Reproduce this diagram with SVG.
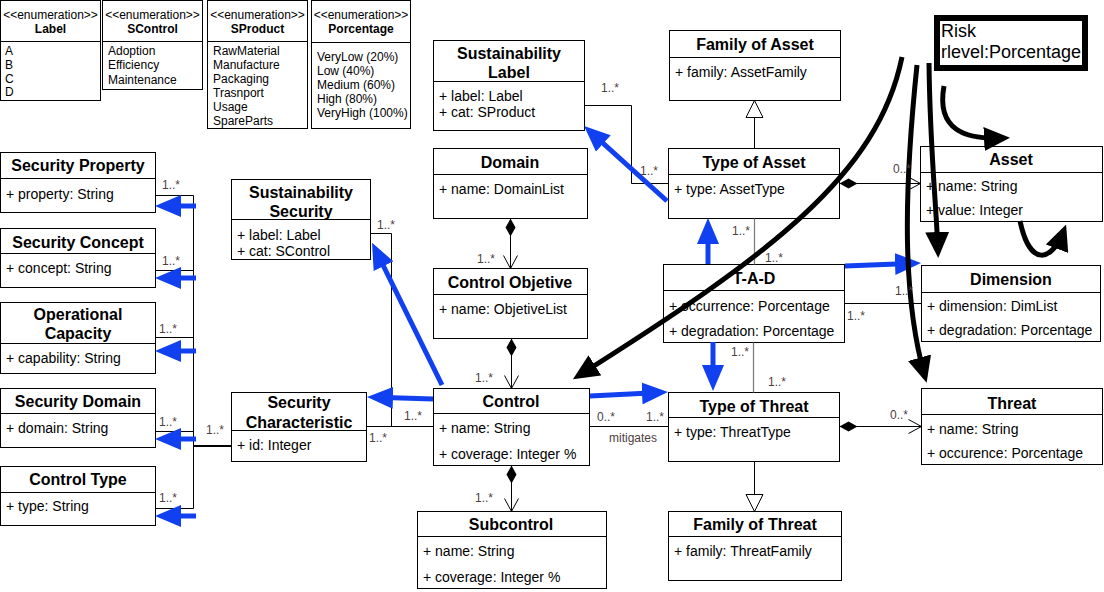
<svg xmlns="http://www.w3.org/2000/svg" width="1104" height="592" viewBox="0 0 1104 592">
<style>
.box{fill:#fff;stroke:#000;stroke-width:1}
.dv{stroke:#000;stroke-width:1}
.t{font-family:'Liberation Sans',Arial,sans-serif;font-weight:bold;font-size:16px;text-anchor:middle;fill:#000}
.a{font-family:'Liberation Sans',Arial,sans-serif;font-size:14px;fill:#000}
.e{font-family:'Liberation Sans',Arial,sans-serif;font-size:12px;fill:#000}
.ec{font-family:'Liberation Sans',Arial,sans-serif;font-size:12px;fill:#000;text-anchor:middle}
.eb{font-family:'Liberation Sans',Arial,sans-serif;font-size:12px;font-weight:bold;fill:#000;text-anchor:middle}
.m{font-family:'Liberation Sans',Arial,sans-serif;font-size:12px;fill:#4d4040}
.r{font-family:'Liberation Sans',Arial,sans-serif;font-size:18px;fill:#000}
.c{stroke:#000;stroke-width:1;fill:none}
.g{stroke:#808080;stroke-width:1.3;fill:none}
.comp{marker-start:url(#dia);marker-end:url(#open)}
.gen{marker-end:url(#tri)}
.blue{stroke:#1040f0;stroke-width:5;fill:none;marker-end:url(#bh)}
.bk{stroke:#000;stroke-width:5;fill:none;marker-end:url(#kh)}
</style>
<defs>
<marker id="bh" markerUnits="userSpaceOnUse" markerWidth="26" markerHeight="22" refX="8" refY="11" orient="auto"><path d="M0,0 L26,11 L0,22 z" fill="#1040f0"/></marker>
<marker id="kh" markerUnits="userSpaceOnUse" markerWidth="26" markerHeight="24" refX="20" refY="12" orient="auto"><path d="M0,0 L26,12 L0,24 z" fill="#000"/></marker>
<marker id="dia" markerUnits="userSpaceOnUse" markerWidth="20" markerHeight="12" refX="0" refY="6" orient="auto"><path d="M0,6 L9,1 L18,6 L9,11 z" fill="#000"/></marker>
<marker id="open" markerUnits="userSpaceOnUse" markerWidth="15" markerHeight="16" refX="14" refY="8" orient="auto"><path d="M1,1 L14,8 L1,15" fill="none" stroke="#000" stroke-width="1"/></marker>
<marker id="tri" markerUnits="userSpaceOnUse" markerWidth="19" markerHeight="19" refX="18" refY="9.5" orient="auto"><path d="M1,1 L18,9.5 L1,18 z" fill="#fff" stroke="#000" stroke-width="1"/></marker>
</defs>

<!-- Enumerations -->
<g id="enum-label">
<rect class="box" x="0.5" y="0.5" width="100" height="100"/>
<line class="dv" x1="0.5" y1="41.5" x2="100.5" y2="41.5"/>
<text class="ec" x="50.5" y="19">&lt;&lt;enumeration&gt;&gt;</text>
<text class="eb" x="50.5" y="32.5">Label</text>
<text class="e" x="5" y="55">A</text><text class="e" x="5" y="69">B</text><text class="e" x="5" y="82.5">C</text><text class="e" x="5" y="96">D</text>
</g>
<g id="enum-scontrol">
<rect class="box" x="102.5" y="0.5" width="100" height="89"/>
<line class="dv" x1="102.5" y1="41.5" x2="202.5" y2="41.5"/>
<text class="ec" x="152.5" y="19">&lt;&lt;enumeration&gt;&gt;</text>
<text class="eb" x="152.5" y="32.5">SControl</text>
<text class="e" x="108" y="55">Adoption</text><text class="e" x="108" y="69">Efficiency</text><text class="e" x="108" y="84">Maintenance</text>
</g>
<g id="enum-sproduct">
<rect class="box" x="207.5" y="0.5" width="100" height="128"/>
<line class="dv" x1="207.5" y1="41.5" x2="307.5" y2="41.5"/>
<text class="ec" x="257.5" y="19">&lt;&lt;enumeration&gt;&gt;</text>
<text class="eb" x="257.5" y="32.5">SProduct</text>
<text class="e" x="213" y="54.5">RawMaterial</text><text class="e" x="213" y="68.5">Manufacture</text><text class="e" x="213" y="82.5">Packaging</text><text class="e" x="213" y="96.5">Trasnport</text><text class="e" x="213" y="111">Usage</text><text class="e" x="213" y="125">SpareParts</text>
</g>
<g id="enum-porcentage">
<rect class="box" x="311.5" y="0.5" width="99" height="128"/>
<line class="dv" x1="311.5" y1="42.5" x2="410.5" y2="42.5"/>
<text class="ec" x="361" y="19">&lt;&lt;enumeration&gt;&gt;</text>
<text class="eb" x="361" y="32.5">Porcentage</text>
<text class="e" x="317" y="61">VeryLow (20%)</text><text class="e" x="317" y="75">Low (40%)</text><text class="e" x="317" y="89">Medium (60%)</text><text class="e" x="317" y="103">High (80%)</text><text class="e" x="317" y="117">VeryHigh (100%)</text>
</g>

<!-- Left classes -->
<g id="security-property">
<rect class="box" x="0.5" y="152.5" width="155" height="60"/>
<line class="dv" x1="0.5" y1="178.5" x2="155.5" y2="178.5"/>
<text class="t" x="78" y="171">Security Property</text>
<text class="a" x="6" y="199">+ property: String</text>
</g>
<g id="security-concept">
<rect class="box" x="0.5" y="228.5" width="155" height="59"/>
<line class="dv" x1="0.5" y1="253.5" x2="155.5" y2="253.5"/>
<text class="t" x="78" y="248">Security Concept</text>
<text class="a" x="6" y="273">+ concept: String</text>
</g>
<g id="operational-capacity">
<rect class="box" x="0.5" y="302.5" width="155" height="71"/>
<line class="dv" x1="0.5" y1="343.5" x2="155.5" y2="343.5"/>
<text class="t" x="78" y="320">Operational</text>
<text class="t" x="78" y="339">Capacity</text>
<text class="a" x="6" y="363">+ capability: String</text>
</g>
<g id="security-domain">
<rect class="box" x="0.5" y="388.5" width="155" height="59"/>
<line class="dv" x1="0.5" y1="413.5" x2="155.5" y2="413.5"/>
<text class="t" x="78" y="407">Security Domain</text>
<text class="a" x="6" y="433">+ domain: String</text>
</g>
<g id="control-type">
<rect class="box" x="0.5" y="466.5" width="155" height="59"/>
<line class="dv" x1="0.5" y1="492.5" x2="155.5" y2="492.5"/>
<text class="t" x="78" y="485">Control Type</text>
<text class="a" x="6" y="511">+ type: String</text>
</g>
<g id="sustainability-security">
<rect class="box" x="231.5" y="179.5" width="139" height="80"/>
<line class="dv" x1="231.5" y1="219.5" x2="370.5" y2="219.5"/>
<text class="t" x="301" y="198">Sustainability</text>
<text class="t" x="301" y="217">Security</text>
<text class="a" x="237" y="240">+ label: Label</text>
<text class="a" x="237" y="256">+ cat: SControl</text>
</g>
<g id="security-characteristic">
<rect class="box" x="231.5" y="392.5" width="135" height="69"/>
<line class="dv" x1="231.5" y1="430.5" x2="366.5" y2="430.5"/>
<text class="t" x="299" y="408">Security</text>
<text class="t" x="299" y="428">Characteristic</text>
<text class="a" x="237" y="450">+ id: Integer</text>
</g>

<!-- Middle classes -->
<g id="sustainability-label">
<rect class="box" x="433.5" y="40.5" width="151" height="90"/>
<line class="dv" x1="433.5" y1="81.5" x2="584.5" y2="81.5"/>
<text class="t" x="509" y="59">Sustainability</text>
<text class="t" x="509" y="78">Label</text>
<text class="a" x="439" y="101">+ label: Label</text>
<text class="a" x="439" y="117">+ cat: SProduct</text>
</g>
<g id="domain">
<rect class="box" x="433.5" y="148.5" width="154" height="70"/>
<line class="dv" x1="433.5" y1="174.5" x2="587.5" y2="174.5"/>
<text class="t" x="510" y="168">Domain</text>
<text class="a" x="439" y="194">+ name: DomainList</text>
</g>
<g id="control-objetive">
<rect class="box" x="433.5" y="268.5" width="154" height="70"/>
<line class="dv" x1="433.5" y1="294.5" x2="587.5" y2="294.5"/>
<text class="t" x="510" y="288">Control Objetive</text>
<text class="a" x="439" y="314">+ name: ObjetiveList</text>
</g>
<g id="control">
<rect class="box" x="433.5" y="388.5" width="156" height="77"/>
<line class="dv" x1="433.5" y1="413.5" x2="589.5" y2="413.5"/>
<text class="t" x="511" y="407">Control</text>
<text class="a" x="439" y="433">+ name: String</text>
<text class="a" x="439" y="459">+ coverage: Integer %</text>
</g>
<g id="subcontrol">
<rect class="box" x="417.5" y="511.5" width="189" height="77"/>
<line class="dv" x1="417.5" y1="536.5" x2="606.5" y2="536.5"/>
<text class="t" x="511" y="530">Subcontrol</text>
<text class="a" x="423" y="556">+ name: String</text>
<text class="a" x="423" y="582">+ coverage: Integer %</text>
</g>

<!-- Right classes -->
<g id="family-of-asset">
<rect class="box" x="669.5" y="30.5" width="171" height="70"/>
<line class="dv" x1="669.5" y1="57.5" x2="840.5" y2="57.5"/>
<text class="t" x="755" y="50">Family of Asset</text>
<text class="a" x="675" y="77">+ family: AssetFamily</text>
</g>
<g id="type-of-asset">
<rect class="box" x="668.5" y="148.5" width="171" height="70"/>
<line class="dv" x1="668.5" y1="174.5" x2="839.5" y2="174.5"/>
<text class="t" x="754" y="168">Type of Asset</text>
<text class="a" x="674" y="194">+ type: AssetType</text>
</g>
<g id="asset">
<rect class="box" x="920.5" y="146.5" width="182" height="75"/>
<line class="dv" x1="920.5" y1="172.5" x2="1102.5" y2="172.5"/>
<text class="t" x="1011" y="165">Asset</text>
<text class="a" x="926" y="191">+ name: String</text>
<text class="a" x="926" y="215">+ value: Integer</text>
</g>
<g id="tad">
<rect class="box" x="663.5" y="264.5" width="181" height="78"/>
<line class="dv" x1="663.5" y1="290.5" x2="844.5" y2="290.5"/>
<text class="t" x="754" y="284">T-A-D</text>
<text class="a" x="669" y="311">+ occurrence: Porcentage</text>
<text class="a" x="669" y="336">+ degradation: Porcentage</text>
</g>
<g id="dimension">
<rect class="box" x="921.5" y="265.5" width="179" height="76"/>
<line class="dv" x1="921.5" y1="292.5" x2="1100.5" y2="292.5"/>
<text class="t" x="1011" y="285">Dimension</text>
<text class="a" x="927" y="311">+ dimension: DimList</text>
<text class="a" x="927" y="335">+ degradation: Porcentage</text>
</g>
<g id="type-of-threat">
<rect class="box" x="668.5" y="392.5" width="171" height="69"/>
<line class="dv" x1="668.5" y1="417.5" x2="839.5" y2="417.5"/>
<text class="t" x="754" y="412">Type of Threat</text>
<text class="a" x="674" y="437">+ type: ThreatType</text>
</g>
<g id="threat">
<rect class="box" x="921.5" y="388.5" width="181" height="76"/>
<line class="dv" x1="921.5" y1="414.5" x2="1102.5" y2="414.5"/>
<text class="t" x="1012" y="409">Threat</text>
<text class="a" x="927" y="434">+ name: String</text>
<text class="a" x="927" y="458">+ occurence: Porcentage</text>
</g>
<g id="family-of-threat">
<rect class="box" x="668.5" y="511.5" width="173" height="69"/>
<line class="dv" x1="668.5" y1="536.5" x2="841.5" y2="536.5"/>
<text class="t" x="755" y="530">Family of Threat</text>
<text class="a" x="674" y="556">+ family: ThreatFamily</text>
</g>
<g id="risk">
<rect x="937" y="18" width="148" height="50" fill="#fff" stroke="#000" stroke-width="6"/>
<text class="r" x="941" y="37">Risk</text>
<text class="r" x="941" y="58">rlevel:Porcentage</text>
</g>

<!-- Connectors -->
<g id="connectors">
<path class="c" d="M155.5,195.5 H193.5 V508.5 H155.5 M155.5,270.5 H193.5 M155.5,337.5 H193.5 M155.5,431.5 H193.5"/>
<line x1="193.5" y1="446" x2="231.5" y2="446" stroke="#000" stroke-width="2"/>
<path class="c" d="M370.5,233.5 H391.5 V426.5 M366.5,426.5 H433.5"/>
<path class="c" d="M584.5,105.5 H631.5 V183.5 H668.5"/>
<line class="c comp" x1="510.5" y1="218.5" x2="510.5" y2="268.5"/>
<line class="c comp" x1="511.5" y1="338.5" x2="511.5" y2="388.5"/>
<line class="c comp" x1="511.5" y1="465.5" x2="511.5" y2="511.5"/>
<line class="c comp" x1="839.5" y1="183.5" x2="920.5" y2="183.5"/>
<line class="c comp" x1="839.5" y1="426.5" x2="921.5" y2="426.5"/>
<line class="c gen" x1="754.5" y1="148.5" x2="754.5" y2="100.5"/>
<line class="c gen" x1="754.5" y1="461.5" x2="754.5" y2="511.5"/>
<line class="g" x1="754.5" y1="218.5" x2="754.5" y2="264.5"/>
<line class="g" x1="753.5" y1="342.5" x2="753.5" y2="392.5"/>
<line class="c" x1="844.5" y1="303.5" x2="921.5" y2="303.5"/>
<line class="c" x1="589.5" y1="426.5" x2="668.5" y2="426.5"/>

<!-- blue arrows -->
<line class="blue" x1="196" y1="206" x2="173" y2="206"/>
<line class="blue" x1="196" y1="278" x2="173" y2="278"/>
<line class="blue" x1="196" y1="351" x2="173" y2="351"/>
<line class="blue" x1="196" y1="439" x2="173" y2="439"/>
<line class="blue" x1="196" y1="516" x2="173" y2="516"/>
<line class="blue" x1="442" y1="385" x2="380" y2="259"/>
<line class="blue" x1="433" y1="399" x2="385" y2="397.5"/>
<line class="blue" x1="667" y1="201" x2="597.4" y2="138.1"/>
<line class="blue" x1="708" y1="264" x2="708" y2="236"/>
<line class="blue" x1="845" y1="266" x2="903" y2="263.7"/>
<line class="blue" x1="590" y1="396" x2="650" y2="393"/>
<line class="blue" x1="713" y1="342" x2="713" y2="373"/>

<!-- black risk curves -->
<path class="bk" d="M902,57 C878,175 770,255 578,376"/>
<path class="bk" d="M917,65 C903,200 903,300 925,377"/>
<path class="bk" d="M929,63 C930,150 936,200 938,252"/>
<path class="bk" d="M944,86 C936,130 965,140 1004,138"/>
<path class="bk" d="M1020,221 C1030,268 1052,262 1064,230"/>

<!-- labels -->
<text class="m" x="162" y="189">1..*</text>
<text class="m" x="162" y="265">1..*</text>
<text class="m" x="159" y="333">1..*</text>
<text class="m" x="159" y="426">1..*</text>
<text class="m" x="159" y="502">1..*</text>
<text class="m" x="206" y="434">1..*</text>
<text class="m" x="377" y="229">1..*</text>
<text class="m" x="404" y="420">1..*</text>
<text class="m" x="369" y="442">1..*</text>
<text class="m" x="601" y="92">1..*</text>
<text class="m" x="640" y="175">1..*</text>
<text class="m" x="477" y="263">1..*</text>
<text class="m" x="475" y="382">1..*</text>
<text class="m" x="475" y="502">1..*</text>
<text class="m" x="597" y="421">0..*</text>
<text class="m" x="646" y="421">1..*</text>
<text class="m" x="609" y="442">mitigates</text>
<text class="m" x="732" y="235">1..*</text>
<text class="m" x="765" y="262">1..*</text>
<text class="m" x="731" y="356">1..*</text>
<text class="m" x="768" y="386">1..*</text>
<text class="m" x="847" y="320">1..*</text>
<text class="m" x="895" y="295">1..*</text>
<text class="m" x="893" y="173">0..*</text>
<text class="m" x="890" y="419">0..*</text>
</g>
</svg>
